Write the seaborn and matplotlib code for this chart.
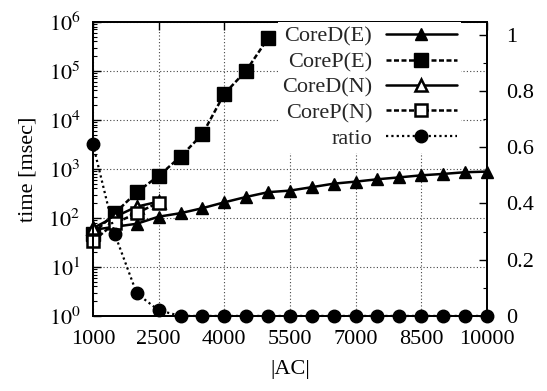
import numpy as np
import pandas as pd
import matplotlib
matplotlib.use("Agg")
import matplotlib.pyplot as plt
import seaborn as sns
from matplotlib.ticker import FixedLocator, LogLocator, NullFormatter, MultipleLocator

sns.set_theme(style="white")
plt.rcParams['font.family'] = ['Liberation Serif', 'DejaVu Serif']
plt.rcParams['mathtext.fontset'] = 'stix'

# ---------------- data ----------------
ac_all = [1000, 1500, 2000, 2500, 3000, 3500, 4000, 4500, 5000, 5500,
          6000, 6500, 7000, 7500, 8000, 8500, 9000, 9500, 10000]
cored_e = [57, 66, 76, 106, 125, 158, 208, 268, 335, 361,
           424, 500, 550, 615, 672, 740, 790, 856, 881]
ac_pe = [1000, 1500, 2000, 2500, 3000, 3500, 4000, 4500, 5000]
corep_e = [48, 125, 335, 720, 1780, 5100, 34000, 101000, 464000]
ac_n = [1000, 1500, 2000, 2500]
cored_n = [62, 105, 170, 215]
corep_n = [34, 78, 125, 206]
ratio = [0.61, 0.29, 0.08, 0.02, 0, 0, 0, 0, 0, 0,
         0, 0, 0, 0, 0, 0, 0, 0, 0]
xticks = [1000, 2500, 4000, 5500, 7000, 8500, 10000]
labels = ["CoreD(E)", "CoreP(E)", "CoreD(N)", "CoreP(N)", "ratio"]

FS = 16
fig = plt.figure(figsize=(5.47, 3.91), dpi=100)
ax = fig.add_axes([0.170, 0.192, 0.720, 0.752])
ax2 = ax.twinx()

dashed = (0, (2.0, 1.0))
dotted = (0, (1.0, 1.4))

common = dict(color="black", markeredgecolor="black", clip_on=False)
sns.lineplot(x=ac_all, y=cored_e, ax=ax, marker="^", markersize=8.5,
             linestyle="-", linewidth=1.8, markeredgewidth=1.0,
             label=labels[0], legend=False, **common)
sns.lineplot(x=ac_pe, y=corep_e, ax=ax, marker="s", markersize=9.5,
             linestyle=dashed, linewidth=1.8, markeredgewidth=1.0,
             label=labels[1], legend=False, **common)
sns.lineplot(x=ac_n, y=cored_n, ax=ax, marker="^", markersize=9,
             markerfacecolor="white", linestyle="-", linewidth=1.8,
             markeredgewidth=1.8, label=labels[2], legend=False, **common)
sns.lineplot(x=ac_n, y=corep_n, ax=ax, marker="s", markersize=9,
             markerfacecolor="white", linestyle=dashed, linewidth=1.8,
             markeredgewidth=1.8, label=labels[3], legend=False, **common)
sns.lineplot(x=ac_all, y=ratio, ax=ax2, marker="o", markersize=9,
             linestyle=dotted, linewidth=1.6, markeredgewidth=1.0,
             label=labels[4], legend=False, **common)

# left axis
ax.set_yscale("log")
ax.set_xlim(1000, 10000)
ax.set_ylim(1, 1e6)
ax.set_xticks(xticks)
ax.set_xticklabels([str(v) for v in xticks], fontsize=FS)
ax.set_yticks([10.0 ** k for k in range(7)])
ax.set_yticklabels([r"$10^{%d}$" % k for k in range(7)], fontsize=FS)
ax.yaxis.set_minor_locator(LogLocator(base=10, subs=np.arange(2, 10)))
ax.yaxis.set_minor_formatter(NullFormatter())
ax.tick_params(axis="x", which="major", direction="in", length=6,
               width=1.0, color="black", pad=10, top=True,
               labelcolor="black")
ax.tick_params(axis="y", which="major", direction="in", length=6,
               width=1.0, color="black", pad=9, right=False,
               labelcolor="black")
ax.tick_params(axis="y", which="minor", direction="in", length=3,
               width=0.8, color="black", left=True, right=False)
ax.grid(True, which="major", color="#444444", linestyle=(0, (1, 2)),
        linewidth=0.8)
ax.set_xlabel("|AC|", fontsize=FS, color="black", labelpad=8)
ax.set_ylabel("time [msec]", fontsize=FS, color="black", labelpad=8)

# right axis
ax2.set_ylim(0, 1.045)
ax2.set_yticks([0, 0.2, 0.4, 0.6, 0.8, 1.0])
ax2.set_yticklabels(["0", "0.2", "0.4", "0.6", "0.8", "1"], fontsize=FS)
ax2.yaxis.set_minor_locator(MultipleLocator(0.1))
ax2.tick_params(axis="y", which="major", direction="in", length=6,
                width=1.0, color="black", pad=14, labelcolor="black")
ax2.tick_params(axis="y", which="minor", direction="in", length=3,
                width=0.8, color="black")
ax2.grid(False)

for a in (ax, ax2):
    for s in a.spines.values():
        s.set_color("black")
        s.set_linewidth(1.3)

# legend (gnuplot-like: text right-aligned before the sample)
h1, l1 = ax.get_legend_handles_labels()
h2, l2 = ax2.get_legend_handles_labels()
leg = ax2.legend(h1 + h2, l1 + l2, loc="upper right",
                 bbox_to_anchor=(0.935, 1.0), markerfirst=False,
                 fontsize=FS, frameon=True, facecolor="white",
                 edgecolor="none", framealpha=1.0, handlelength=3.2,
                 handletextpad=0.6, labelspacing=0.22, borderpad=0.2,
                 borderaxespad=0.0, fancybox=False)
leg.set_zorder(10)

fig.savefig("out.png", dpi=100)
